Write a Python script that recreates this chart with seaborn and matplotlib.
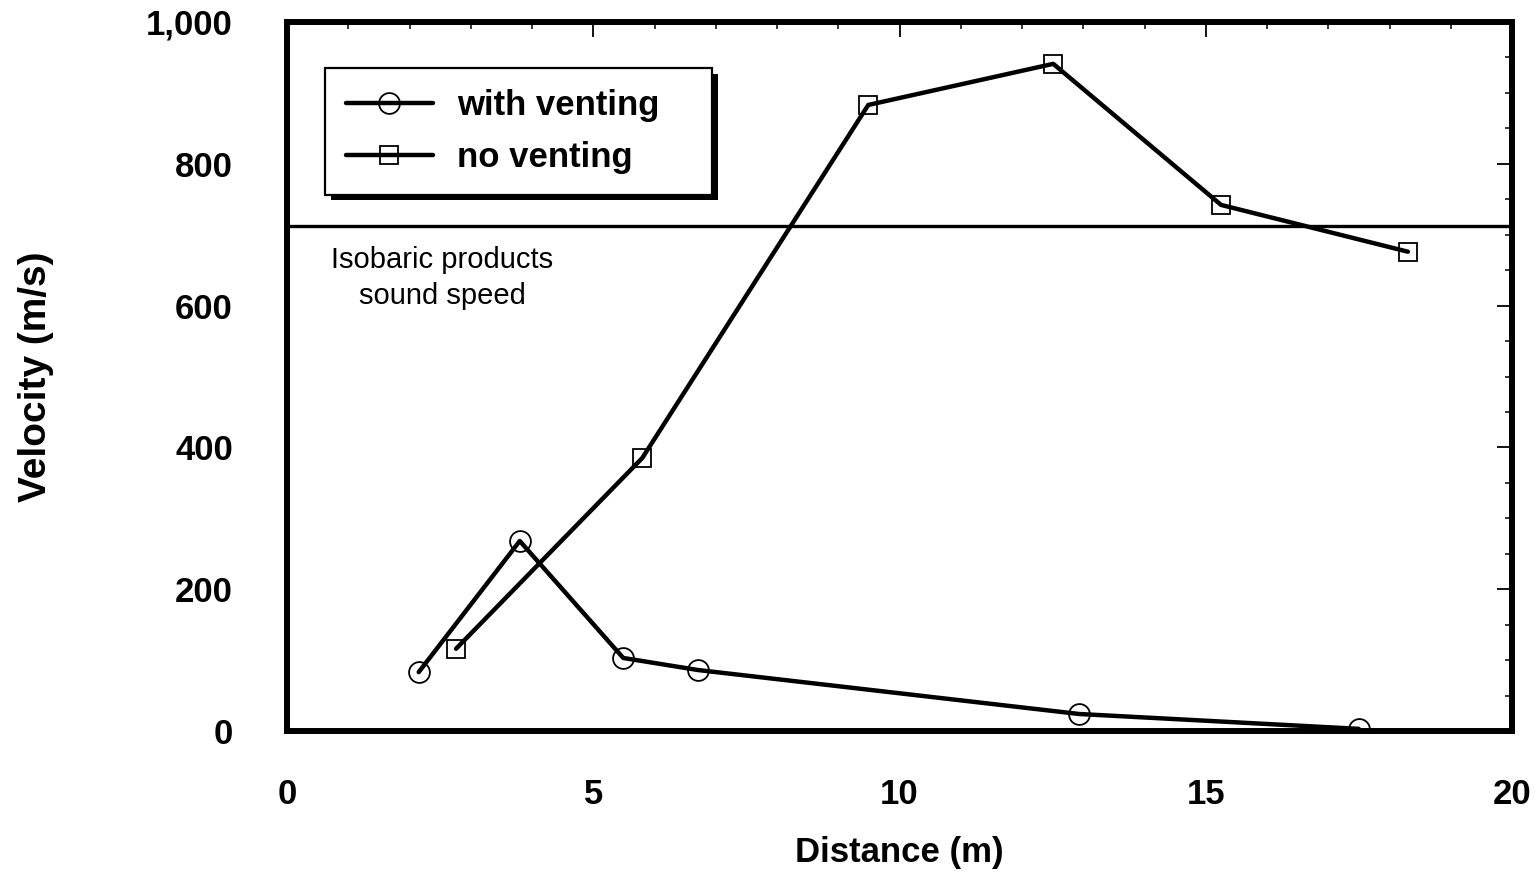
import matplotlib
matplotlib.use("Agg")
import matplotlib.pyplot as plt
import matplotlib.patheffects as pe
from matplotlib.ticker import MultipleLocator, FuncFormatter
import seaborn as sns
import pandas as pd

# Measured flame velocities along the channel
dist_vented = [2.15, 3.80, 5.49, 6.71, 12.93, 17.50]
vel_vented = [83, 268, 103, 86, 24, 3]
dist_closed = [2.76, 5.80, 9.49, 12.51, 15.25, 18.30]
vel_closed = [116, 385, 883, 941, 742, 676]
series_names = ["with venting", "no venting"]
sound_speed = 712  # isobaric products sound speed (m/s)

df = pd.concat([
    pd.DataFrame({"Distance": dist_vented, "Velocity": vel_vented, "case": series_names[0]}),
    pd.DataFrame({"Distance": dist_closed, "Velocity": vel_closed, "case": series_names[1]}),
], ignore_index=True)

sns.set_theme(style="white")
plt.rcParams["font.family"] = ["Liberation Sans", "DejaVu Sans"]
for key in ["text.color", "axes.labelcolor", "xtick.color", "ytick.color", "axes.edgecolor"]:
    plt.rcParams[key] = "black"

fig = plt.figure(figsize=(15.38, 8.75), dpi=100)
ax = fig.add_axes([287 / 1538, 1 - 731 / 875, (1512 - 287) / 1538, (731 - 22) / 875])

sns.lineplot(
    data=df, x="Distance", y="Velocity", style="case",
    markers={series_names[0]: "o", series_names[1]: "s"},
    dashes=False, sort=False, color="black", linewidth=3.2,
    markersize=15, markerfacecolor="none", markeredgecolor="black",
    markeredgewidth=1.3, ax=ax,
)
for line in ax.get_lines():
    if line.get_marker() == "s":
        line.set_markersize(13)

ax.axhline(sound_speed, color="black", linewidth=2.4, zorder=1)
ax.text(2.53, 639, "Isobaric products\nsound speed", ha="center", va="center",
        fontsize=21, linespacing=1.4, color="black")

ax.set_xlim(0, 20)
ax.set_ylim(0, 1000)
ax.xaxis.set_major_locator(MultipleLocator(5))
ax.xaxis.set_minor_locator(MultipleLocator(1))
ax.yaxis.set_major_locator(MultipleLocator(200))
ax.yaxis.set_minor_locator(MultipleLocator(50))
ax.yaxis.set_major_formatter(FuncFormatter(lambda v, p: f"{int(v):,}"))

for s in ax.spines.values():
    s.set_linewidth(4.3)
    s.set_color("black")

ax.tick_params(which="both", direction="in", top=True, right=True, color="black")
ax.tick_params(which="major", length=11, width=1.3)
ax.tick_params(which="minor", length=5, width=1.1)
ax.tick_params(axis="x", which="major", pad=34, labelsize=25)
ax.tick_params(axis="y", which="major", pad=39, labelsize=25)
for lab in ax.get_xticklabels() + ax.get_yticklabels():
    lab.set_fontweight("bold")

ax.set_xlabel("Distance (m)", fontsize=25, fontweight="bold", labelpad=18)
ax.set_ylabel("Velocity (m/s)", fontsize=28, fontweight="bold", labelpad=66)

handles, labels = ax.get_legend_handles_labels()
for h in handles:
    if h.get_marker() == "s":
        h.set_markersize(13)
    else:
        h.set_markersize(15)
leg = ax.legend(handles, labels, loc="upper left",
                bbox_to_anchor=(325 / 1538, 1 - 193 / 875, (712 - 325) / 1538, (193 - 68) / 875),
                bbox_transform=fig.transFigure, mode="expand",
                borderaxespad=0, fancybox=False, frameon=True, edgecolor="black",
                prop={"weight": "bold", "size": 25},
                handlelength=2.5, handletextpad=0.7, labelspacing=0.55,
                borderpad=0.6)
leg.get_frame().set_linewidth(1.6)
leg.get_frame().set_facecolor("white")
leg.get_frame().set_alpha(1)
leg.legendPatch.set_path_effects([
    pe.SimplePatchShadow(offset=(4, -4), shadow_rgbFace="black", alpha=1.0),
    pe.Normal(),
])

fig.savefig("out.png", dpi=100)
